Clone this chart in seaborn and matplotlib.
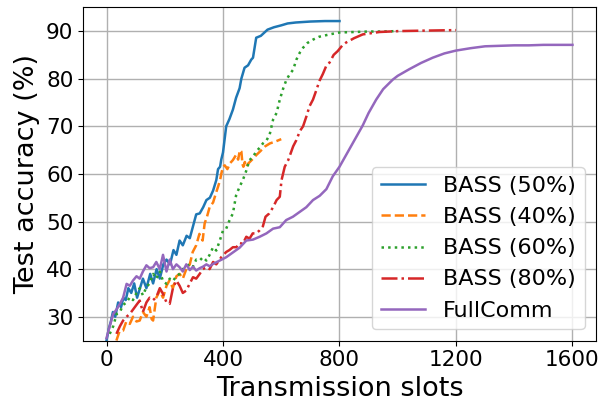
import matplotlib
matplotlib.use("Agg")
import matplotlib.pyplot as plt
import seaborn as sns

# BASS (50%)
b50_x = [0, 8, 15, 22, 30, 40, 50, 58, 66, 75, 85, 95, 105, 115, 125, 137, 150, 160, 172, 183,
         195, 206, 218, 230, 240, 251, 262, 275, 286, 297, 308, 320, 332, 343, 355, 366, 377, 383, 390, 394,
         400, 411, 422, 434, 445, 457, 463, 474, 486, 497, 503, 514, 530, 553, 575, 600, 622, 650, 700, 750, 800]
b50_y = [25, 27.5, 29, 31, 30, 33, 32, 34, 33.5, 36, 35, 37, 34, 36, 38, 36, 39, 37, 40, 38,
         41, 42, 41, 44, 43, 46, 45, 47, 46.5, 49, 51.5, 51.7, 53, 54.5, 55, 56.5, 58.7, 61, 61.5, 63,
         64.5, 70, 71.5, 73.5, 76, 78, 80, 82.3, 82.8, 84, 84.4, 88.6, 89, 90.3, 90.8, 91.2, 91.6, 91.8, 92.0, 92.1, 92.1]

# BASS (40%)
b40_x = [34, 45, 57, 68, 80, 91, 103, 114, 125, 137, 148, 155, 160, 171, 183, 194, 206, 216, 228, 240,
         251, 262, 274, 286, 296, 308, 319, 330, 337, 345, 354, 366, 376, 383, 390, 394, 400, 406, 415, 425,
         434, 445, 452, 458, 463, 467, 470, 475, 479, 487, 500, 515, 527, 545, 561, 580, 600]
b40_y = [25, 27, 27.1, 29, 28.5, 30, 29, 29.2, 31, 30, 32, 29.5, 29.2, 34, 35.5, 34, 36.5, 37.6, 36, 38.5,
         39, 38, 40, 41, 43.6, 45, 47.4, 46, 49.6, 51, 53, 54, 56, 57.3, 58.7, 60, 61.5, 61.8, 61, 62.3,
         62.9, 64, 63, 65, 64.7, 62, 61.5, 62.5, 61.5, 62.2, 63, 64, 64.7, 65.8, 66.4, 66.8, 67.3]

# BASS (60%)
b60_x = [11, 23, 35, 46, 57, 69, 80, 91, 103, 114, 125, 137, 148, 160, 171, 183, 194, 206, 217, 228,
         240, 251, 262, 274, 286, 297, 308, 320, 331, 343, 354, 366, 377, 389, 400, 411, 422, 434, 445, 457,
         468, 479, 491, 502, 514, 526, 537, 549, 560, 572, 584, 595, 607, 618, 630, 641, 652, 664, 675, 690,
         709, 730, 766, 800, 850, 900, 950, 1000]
b60_y = [26.4, 28, 30.6, 31, 32.5, 33, 34.1, 33.5, 35, 36, 34.5, 36.2, 37, 39, 38, 39.5, 37.5, 36.9, 38, 37.5,
         38.5, 39, 40, 40.5, 41.1, 40.5, 42, 41.8, 42.5, 41.8, 43, 44.6, 43.9, 46, 48.1, 48.5, 50.2, 51.7, 55.5, 57.3,
         58.7, 60.5, 62.9, 63.5, 64.7, 65.5, 66.4, 67, 68.2, 71.4, 72.8, 75.6, 78, 79.8, 81, 81.9, 84, 85.5, 86.5, 87.5,
         88.2, 88.8, 89.3, 89.7, 89.8, 89.9, 89.9, 90]

# BASS (80%)
b80_x = [34, 46, 57, 69, 80, 91, 103, 114, 125, 137, 148, 160, 171, 183, 194, 206, 217, 228, 240, 251,
         262, 274, 286, 297, 308, 320, 331, 343, 354, 366, 377, 394, 411, 422, 434, 446, 457, 468, 480, 491,
         502, 514, 525, 537, 546, 559, 572, 584, 595, 601, 612, 624, 641, 652, 664, 675, 686, 697, 709, 720,
         731, 743, 754, 766, 780, 794, 810, 823, 850, 880, 937, 1006, 1100, 1200]
b80_y = [26.4, 28, 29.2, 30, 30.6, 31.5, 32.5, 33.4, 31, 33, 34, 33.5, 34.1, 36, 34.8, 33, 32.7, 36, 37.6, 36.5,
         35, 35.5, 37, 38.3, 38, 39, 40, 40.4, 40, 41.5, 41, 42.5, 43.6, 44, 44.6, 44.6, 45.5, 45.3, 46.8, 46.4,
         47.5, 47.5, 48.1, 49, 51, 51.7, 53, 54.5, 55.2, 58.7, 61.5, 62.9, 65.8, 67.1, 69, 70, 72, 74.2, 75.6, 77.5,
         79.5, 81, 82.6, 83.4, 85, 85.8, 87, 87.6, 88.5, 89.3, 89.8, 90, 90.1, 90.2]

# FullComm
full_x = [0, 11, 23, 34, 46, 57, 69, 80, 91, 103, 114, 125, 137, 148, 160, 171, 183, 194, 206, 217,
          228, 240, 251, 262, 274, 286, 297, 308, 320, 331, 343, 354, 366, 389, 411, 434, 457, 480, 503, 526,
          549, 572, 595, 617, 640, 663, 686, 709, 732, 755, 777, 800, 823, 846, 869, 880, 900, 926, 950, 983,
          1000, 1040, 1080, 1120, 1160, 1200, 1250, 1300, 1350, 1400, 1450, 1500, 1550, 1600]
full_y = [25.5, 28, 30.6, 31.5, 32.7, 34, 36.9, 36.5, 37.6, 38.5, 38, 39.5, 40.8, 40.2, 40.4, 41.5, 40, 43, 39.5, 42,
          40, 41, 40.4, 39.5, 41, 39.8, 40.5, 39.7, 40.2, 40.5, 41, 40.6, 41.1, 41.8, 42.5, 43.5, 44.5, 46, 46.2, 46.8,
          47.5, 48.5, 48.8, 50.3, 51, 52, 53, 54.5, 55.4, 56.8, 59.5, 61.5, 64, 66.5, 69, 70.2, 72.8, 75.6, 77.8, 79.8,
          80.6, 82, 83.3, 84.4, 85.3, 85.9, 86.4, 86.8, 86.9, 87, 87, 87.1, 87.1, 87.1]

series = [
    ("BASS (50%)", b50_x, b50_y, "tab:blue", "-"),
    ("BASS (40%)", b40_x, b40_y, "tab:orange", "--"),
    ("BASS (60%)", b60_x, b60_y, "tab:green", ":"),
    ("BASS (80%)", b80_x, b80_y, "tab:red", "-."),
    ("FullComm", full_x, full_y, "tab:purple", "-"),
]

fig, ax = plt.subplots(figsize=(6.03, 4.03), dpi=100)
fig.subplots_adjust(left=0.138, right=0.988, top=0.982, bottom=0.155)

for name, xs, ys, color, ls in series:
    sns.lineplot(x=xs, y=ys, ax=ax, color=color, linestyle=ls, linewidth=1.8, label=name)

ax.set_xlim(-80, 1680)
ax.set_ylim(25, 95)
ax.set_xticks([0, 400, 800, 1200, 1600])
ax.set_yticks([30, 40, 50, 60, 70, 80, 90])
ax.tick_params(labelsize=15.5)
ax.grid(True, color="#b0b0b0", linewidth=1.0)
ax.set_xlabel("Transmission slots", fontsize=19.5)
ax.set_ylabel("Test accuracy (%)", fontsize=19.5)
ax.legend(loc="lower right", fontsize=16)

plt.savefig("out.png", dpi=100)
